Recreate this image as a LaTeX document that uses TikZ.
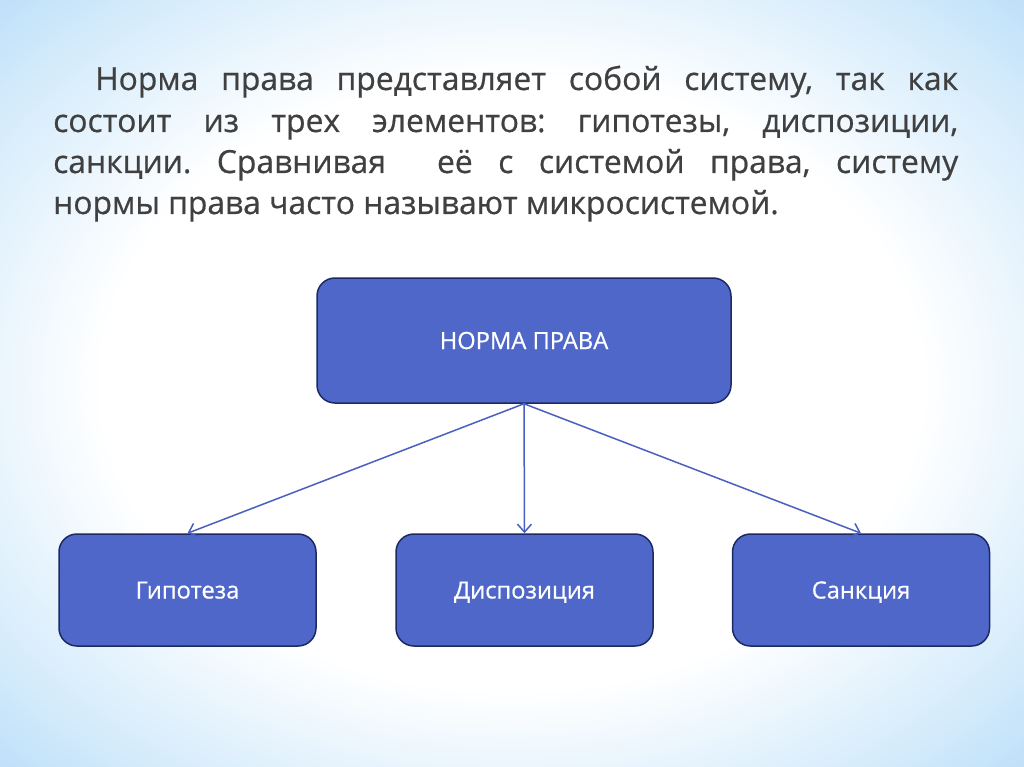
\documentclass[tikz,border=0pt]{standalone}
\usepackage{fontspec}
\setmainfont{Open Sans}
\newfontfamily\heavyfont[FakeBold=0.6]{Open Sans}
\usetikzlibrary{arrows.meta}
\definecolor{bgblue}{HTML}{9ECFF5}
\definecolor{bgmid}{HTML}{D2EAFB}
\definecolor{boxfill}{HTML}{4F67C8}
\definecolor{boxline}{HTML}{1D2A62}
\definecolor{arrowc}{HTML}{4A5FC0}
\definecolor{txt}{HTML}{404040}
\pgfdeclareradialshading{slidebg}{\pgfpoint{0bp}{0bp}}{color(0bp)=(white); color(20bp)=(white); color(31bp)=(bgmid); color(43bp)=(bgblue); color(50bp)=(bgblue)}
\tikzset{
  bodytext/.style={anchor=base west, inner sep=0pt, text=txt, font=\heavyfont\fontsize{31.8}{36}\selectfont\frenchspacing},
  blockbox/.style={draw=boxline, line width=1.5pt, fill=boxfill, rounded corners=18pt, text=white, font=\heavyfont\fontsize{23.7}{28}\selectfont, inner sep=0pt, text height=17pt, text depth=0pt},
  link/.style={draw=arrowc, line width=1.5pt, -{Straight Barb[length=8pt,width=14pt]}}
}
\begin{document}
\begin{tikzpicture}[x=1pt,y=-1pt]
\useasboundingbox (0,0) rectangle (1024,767);
\shade[shading=slidebg] (0,0) rectangle (1024,767);
\node[bodytext] (l1) at (95,90) {\makebox[863pt][s]{Норма права представляет собой систему, так как}};
\node[bodytext] (l2) at (53,132) {\makebox[905pt][s]{состоит из трех элементов: гипотезы, диспозиции,}};
\node[bodytext] (l3) at (53,173) {\makebox[905pt][s]{санкции. Сравнивая\space\space её с системой права, систему}};
\node[bodytext] (l4) at (53,214) {нормы права часто называют микросистемой.};
\node[blockbox, minimum width=414pt, minimum height=125pt] (top) at (524,340.5) {НОРМА ПРАВА};
\node[blockbox, minimum width=257pt, minimum height=112pt] (hyp) at (187.5,590) {Гипотеза};
\node[blockbox, minimum width=257pt, minimum height=112pt] (disp) at (524.5,590) {Диспозиция};
\node[blockbox, minimum width=257pt, minimum height=112pt] (sanc) at (861,590) {Санкция};
\draw[link] (top.south) -- (hyp.north);
\draw[link] (top.south) -- (disp.north);
\draw[link] (top.south) -- (sanc.north);
\end{tikzpicture}
\end{document}
